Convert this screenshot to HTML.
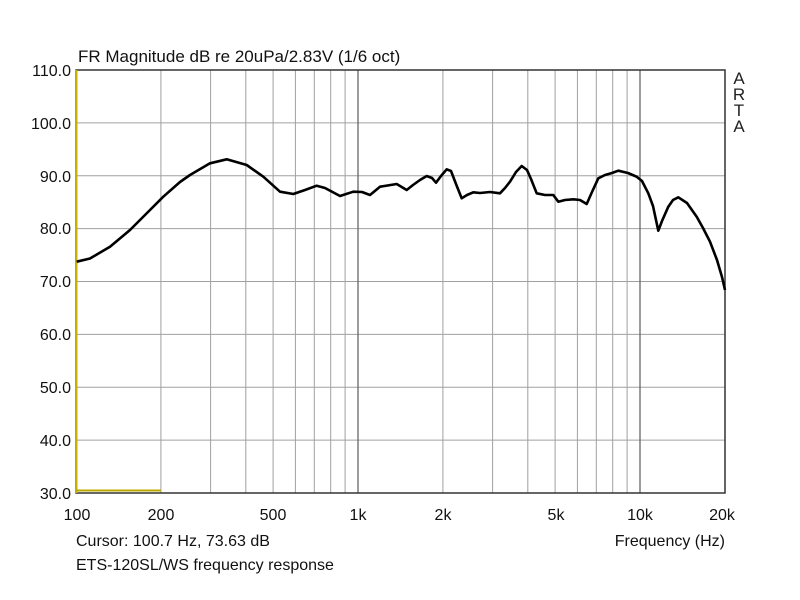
<!DOCTYPE html>
<html><head><style>body{margin:0;background:#fff}svg{display:block}</style></head><body>
<svg width="800" height="600" xmlns="http://www.w3.org/2000/svg" font-family="Liberation Sans, sans-serif">
<rect width="800" height="600" fill="#fff"/>
<g stroke="#a0a0a0" stroke-width="1">
<line x1="76" y1="122.9" x2="725" y2="122.9"/><line x1="76" y1="175.8" x2="725" y2="175.8"/><line x1="76" y1="228.6" x2="725" y2="228.6"/><line x1="76" y1="281.5" x2="725" y2="281.5"/><line x1="76" y1="334.4" x2="725" y2="334.4"/><line x1="76" y1="387.3" x2="725" y2="387.3"/><line x1="76" y1="440.1" x2="725" y2="440.1"/>
<line x1="160.9" y1="70" x2="160.9" y2="493"/><line x1="210.6" y1="70" x2="210.6" y2="493"/><line x1="245.8" y1="70" x2="245.8" y2="493"/><line x1="273.1" y1="70" x2="273.1" y2="493"/><line x1="295.4" y1="70" x2="295.4" y2="493"/><line x1="314.3" y1="70" x2="314.3" y2="493"/><line x1="330.7" y1="70" x2="330.7" y2="493"/><line x1="345.1" y1="70" x2="345.1" y2="493"/>
<line x1="442.9" y1="70" x2="442.9" y2="493"/><line x1="492.6" y1="70" x2="492.6" y2="493"/><line x1="527.8" y1="70" x2="527.8" y2="493"/><line x1="555.1" y1="70" x2="555.1" y2="493"/><line x1="577.4" y1="70" x2="577.4" y2="493"/><line x1="596.3" y1="70" x2="596.3" y2="493"/><line x1="612.7" y1="70" x2="612.7" y2="493"/><line x1="627.1" y1="70" x2="627.1" y2="493"/>
</g>
<g stroke="#666" stroke-width="1.3"><line x1="358" y1="70" x2="358" y2="493"/><line x1="640" y1="70" x2="640" y2="493"/></g>
<rect x="76" y="70" width="649" height="423" fill="none" stroke="#333" stroke-width="1.5"/>
<line x1="76.5" y1="70" x2="76.5" y2="493" stroke="#c8b400" stroke-width="2"/>
<line x1="76" y1="490.5" x2="160.9" y2="490.5" stroke="#b8a800" stroke-width="2"/>
<polyline fill="none" stroke="#000" stroke-width="2.6" stroke-linejoin="round" points="76.7,261.7 90,258.5 110,246.7 130,230 150,210 163.3,196.7 180,182 190,175 210,163.3 226.7,159.3 246.7,165 263.3,176.7 280,191.7 293.3,194 305,190 316.7,185.7 325,188 340,196 353.3,191.7 362,192 370,195 380,186.7 396.7,184 406.7,190 413,185 420,180 426.7,176 432,178 436,182.7 441,176 446.7,169.3 451,171 456,184 461.7,198.3 467,195 473.3,192.3 480,193 490,192 500,193.3 505,188 510,181.7 516,172 521.7,166 527,170 531,179 536.7,193.3 545,195 553.3,195 558.3,201.7 565,200 573.3,199.3 580,200 586.7,204 592,192 598.3,178.3 605,175 612,173 618.3,170.7 628,173 636.7,176.7 642,181 648.3,193.3 653,206 658.3,230.7 662,221 668.3,206.7 673,200 678.3,197.3 687,203 696.7,216.7 703,228 710,241.7 717,260 722,277 725,290"/>
<text x="78" y="62" font-size="17" fill="#111">FR Magnitude dB re 20uPa/2.83V (1/6 oct)</text>
<g font-size="16" fill="#111" text-anchor="end">
<text x="71" y="76">110.0</text><text x="71" y="129">100.0</text><text x="71" y="182">90.0</text><text x="71" y="234">80.0</text><text x="71" y="287">70.0</text><text x="71" y="340">60.0</text><text x="71" y="393">50.0</text><text x="71" y="446">40.0</text><text x="71" y="499">30.0</text>
</g>
<g font-size="16" fill="#111" text-anchor="middle">
<text x="77" y="520">100</text><text x="161" y="520">200</text><text x="273" y="520">500</text><text x="358" y="520">1k</text><text x="443" y="520">2k</text><text x="556" y="520">5k</text><text x="640" y="520">10k</text><text x="722" y="520">20k</text>
</g>
<g font-size="17" fill="#222" text-anchor="middle"><text x="739" y="84">A</text><text x="739" y="100">R</text><text x="739" y="116">T</text><text x="739" y="132">A</text></g>
<text x="76" y="546" font-size="16" fill="#111">Cursor: 100.7 Hz, 73.63 dB</text>
<text x="725" y="546" font-size="16" fill="#111" text-anchor="end">Frequency (Hz)</text>
<text x="76" y="570" font-size="16" fill="#111">ETS-120SL/WS frequency response</text>
</svg>
</body></html>
